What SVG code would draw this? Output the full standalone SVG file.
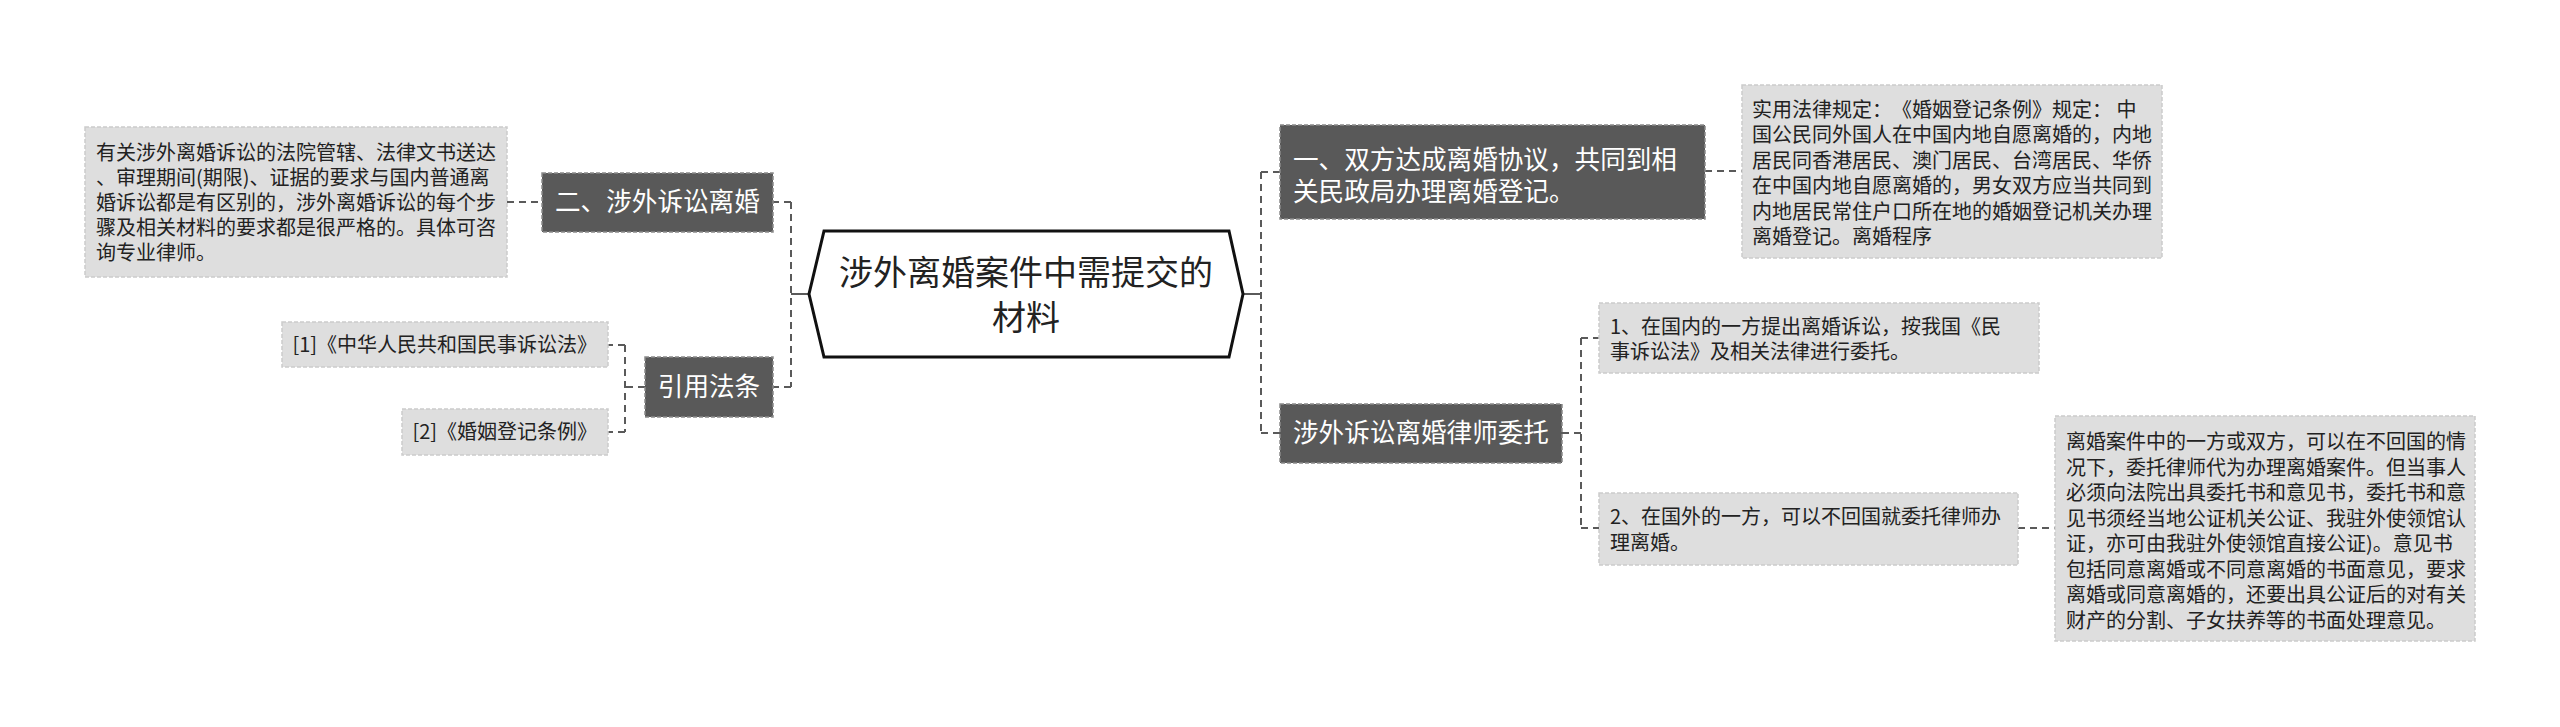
<svg xmlns="http://www.w3.org/2000/svg" width="2560" height="727" viewBox="0 0 2560 727">
<style>
text{font-family:"Noto Sans CJK SC","Noto Sans",sans-serif;text-spacing-trim:space-all;font-feature-settings:"chws" 0,"halt" 0;}
.dark rect{fill:#595959;stroke:#8a8a8a;stroke-width:1.5;stroke-dasharray:4 2;}
.dark text{fill:#ffffff;font-size:25.6px;}
.light rect{fill:#dedede;stroke:#cccccc;stroke-width:1.5;stroke-dasharray:4 2;}
.light text{fill:#222222;font-size:20px;}
.conn path{fill:none;stroke:#5a5a5a;stroke-width:2;stroke-dasharray:7 5;}
.conn path.solid{stroke-dasharray:none;}
.root polygon{fill:#ffffff;stroke:#111111;stroke-width:3;}
.root text{fill:#222222;font-size:34px;}
</style>
<rect width="2560" height="727" fill="#ffffff"/>
<g id="connectors" class="conn">
<path class="solid" d="M809 294H791"/>
<path d="M791 202V387M791 202H773M791 387H773"/>
<path d="M507 202H542"/>
<path d="M645 387H625M625 345V432M625 345H608M625 432H608"/>
<path class="solid" d="M1243 294H1261"/>
<path d="M1261 172V433M1261 172H1280M1261 433H1280"/>
<path d="M1705 171H1742"/>
<path d="M1562 433H1581M1581 338V528M1581 338H1599M1581 528H1599"/>
<path d="M2018 528H2055"/>
</g>
<g id="root" class="root">
<polygon points="809,294 824,231 1229,231 1243,294 1229,357 824,357"/>
<text x="1026" y="285" text-anchor="middle">涉外离婚案件中需提交的</text>
<text x="1026" y="330" text-anchor="middle">材料</text>
</g>
<g id="n-left-1" class="dark">
<rect x="542" y="173" width="231" height="59"/>
<text x="555" y="211">二、涉外诉讼离婚</text>
</g>
<g id="n-left-1-detail" class="light">
<rect x="85" y="127" width="422" height="150"/>
<text x="96" y="160">有关涉外离婚诉讼的法院管辖、法律文书送达</text>
<text x="96" y="185">、审理期间(期限)、证据的要求与国内普通离</text>
<text x="96" y="210">婚诉讼都是有区别的，涉外离婚诉讼的每个步</text>
<text x="96" y="235">骤及相关材料的要求都是很严格的。具体可咨</text>
<text x="96" y="260">询专业律师。</text>
</g>
<g id="n-left-2" class="dark">
<rect x="645" y="357" width="128" height="60"/>
<text x="709" y="396" text-anchor="middle">引用法条</text>
</g>
<g id="n-ref-1" class="light">
<rect x="282" y="322" width="326" height="45"/>
<text x="597" y="352" text-anchor="end">[1]《中华人民共和国民事诉讼法》</text>
</g>
<g id="n-ref-2" class="light">
<rect x="402" y="409" width="206" height="46"/>
<text x="597" y="439" text-anchor="end">[2]《婚姻登记条例》</text>
</g>
<g id="n-right-1" class="dark">
<rect x="1280" y="125" width="425" height="94"/>
<text x="1293" y="169">一、双方达成离婚协议，共同到相</text>
<text x="1293" y="201">关民政局办理离婚登记。</text>
</g>
<g id="n-right-1-detail" class="light">
<rect x="1742" y="85" width="420" height="173"/>
<text x="1752" y="117">实用法律规定：《婚姻登记条例》规定： 中</text>
<text x="1752" y="142">国公民同外国人在中国内地自愿离婚的，内地</text>
<text x="1752" y="168">居民同香港居民、澳门居民、台湾居民、华侨</text>
<text x="1752" y="193">在中国内地自愿离婚的，男女双方应当共同到</text>
<text x="1752" y="219">内地居民常住户口所在地的婚姻登记机关办理</text>
<text x="1752" y="244">离婚登记。离婚程序</text>
</g>
<g id="n-right-2" class="dark">
<rect x="1280" y="404" width="282" height="59"/>
<text x="1293" y="442">涉外诉讼离婚律师委托</text>
</g>
<g id="n-right-2-a" class="light">
<rect x="1599" y="303" width="440" height="70"/>
<text x="1610" y="334">1、在国内的一方提出离婚诉讼，按我国《民</text>
<text x="1610" y="359">事诉讼法》及相关法律进行委托。</text>
</g>
<g id="n-right-2-b" class="light">
<rect x="1599" y="493" width="419" height="72"/>
<text x="1610" y="524">2、在国外的一方，可以不回国就委托律师办</text>
<text x="1610" y="550">理离婚。</text>
</g>
<g id="n-right-2-b-detail" class="light">
<rect x="2055" y="416" width="420" height="225"/>
<text x="2066" y="449">离婚案件中的一方或双方，可以在不回国的情</text>
<text x="2066" y="475">况下，委托律师代为办理离婚案件。但当事人</text>
<text x="2066" y="500">必须向法院出具委托书和意见书，委托书和意</text>
<text x="2066" y="526">见书须经当地公证机关公证、我驻外使领馆认</text>
<text x="2066" y="551">证，亦可由我驻外使领馆直接公证)。意见书</text>
<text x="2066" y="577">包括同意离婚或不同意离婚的书面意见，要求</text>
<text x="2066" y="602">离婚或同意离婚的，还要出具公证后的对有关</text>
<text x="2066" y="628">财产的分割、子女扶养等的书面处理意见。</text>
</g>
</svg>
